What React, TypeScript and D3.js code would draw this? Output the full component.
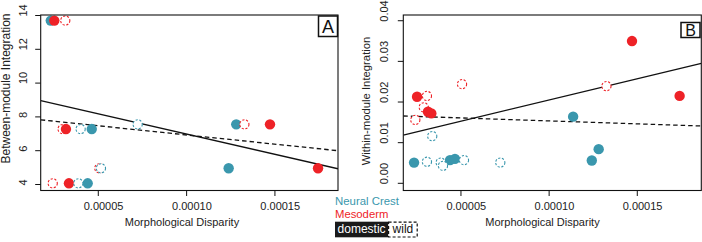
import React from "react";
import * as d3 from "d3";

// ---------- data ----------
// Panel A: between-module integration vs morphological disparity
const ncDomA: [number, number][] = [
  [0.0000231, 13.7], [0.0000463, 7.28], [0.000044, 4.07], [0.0001238, 4.96], [0.0001281, 7.56],
];
const mesDomA: [number, number][] = [
  [0.0000251, 13.7], [0.0000317, 7.28], [0.0000334, 4.07], [0.0001472, 7.56], [0.0001744, 4.96],
];
const ncWildA: [number, number][] = [
  [0.00004, 7.28], [0.0000387, 4.07], [0.0000515, 4.96], [0.0000723, 7.56],
];
const mesWildA: [number, number][] = [
  [0.0000313, 13.7], [0.0000298, 7.28], [0.0000242, 4.07], [0.0000506, 4.96], [0.0001327, 7.56],
];
// Panel B: within-module integration vs morphological disparity
const ncDomB: [number, number][] = [
  [0.0000234, 0.0051], [0.0000438, 0.0057], [0.0000466, 0.006], [0.0001136, 0.0164],
  [0.0001242, 0.0056], [0.0001281, 0.0084],
];
const mesDomB: [number, number][] = [
  [0.0000251, 0.0213], [0.0000313, 0.0176], [0.0000332, 0.0172], [0.000147, 0.035], [0.000174, 0.0215],
];
const ncWildB: [number, number][] = [
  [0.0000337, 0.0116], [0.0000307, 0.0053], [0.0000385, 0.0051], [0.0000398, 0.0043],
  [0.0000517, 0.0057], [0.0000723, 0.0051],
];
const mesWildB: [number, number][] = [
  [0.0000307, 0.0215], [0.0000289, 0.0187], [0.0000241, 0.0156], [0.0000506, 0.0244], [0.0001325, 0.0239],
];
// regression lines [intercept, slope]
const fitDomA: [number, number] = [9.377, -23945];
const fitWildA: [number, number] = [8.019, -10873];
const fitDomB: [number, number] = [0.01007, 104.4];
const fitWildB: [number, number] = [0.01681, -14.56];

const xTicks = [0.00005, 0.0001, 0.00015];
const xTickLabels = ["0.00005", "0.00010", "0.00015"];
const yTicksA = [4, 6, 8, 10, 12, 14];
const yTickLabelsA = ["4", "6", "8", "10", "12", "14"];
const yTicksB = [0, 0.01, 0.02, 0.03, 0.04];
const yTickLabelsB = ["0.00", "0.01", "0.02", "0.03", "0.04"];

const TEAL = "#3a97ad";
const RED = "#ee2227";
const FONT = "'Liberation Sans', Arial, Helvetica, sans-serif";

type PanelProps = {
  x0: number; x1: number; xDom: [number, number];
  yDom: [number, number];
  ncDom: [number, number][]; mesDom: [number, number][];
  ncWild: [number, number][]; mesWild: [number, number][];
  fitDom: [number, number]; fitWild: [number, number];
  yTicks: number[]; yTickLabels: string[];
  yLabel: string; yLabelX: number; yLabelY: number; yLabelSize: number;
  yTickTextX: number;
  xLabelX: number;
  letter: string; letterBox: [number, number, number, number]; letterSize: number;
  clipId: string;
};

const TOP = 15;
const BOTTOM = 190.5;

function Panel(p: PanelProps) {
  const x = d3.scaleLinear().domain(p.xDom).range([p.x0, p.x1]);
  const y = d3.scaleLinear().domain(p.yDom).range([BOTTOM, TOP]);
  const r = 5.2;
  const line = d3.line<[number, number]>().x((d) => x(d[0])).y((d) => y(d[1]));
  const fitPts = (f: [number, number]): [number, number][] =>
    p.xDom.map((v) => [v, f[0] + f[1] * v] as [number, number]);
  return (
    <g fontFamily={FONT}>
      <defs>
        <clipPath id={p.clipId}>
          <rect x={p.x0} y={TOP} width={p.x1 - p.x0} height={BOTTOM - TOP} />
        </clipPath>
      </defs>
      <g clipPath={`url(#${p.clipId})`}>
        <path d={line(fitPts(p.fitDom)) || ""} stroke="#111" strokeWidth={1.3} fill="none" />
        <path d={line(fitPts(p.fitWild)) || ""} stroke="#111" strokeWidth={1.3} strokeDasharray="4.5,3" fill="none" />
        {p.ncDom.map((d, i) => (
          <circle key={"nd" + i} cx={x(d[0])} cy={y(d[1])} r={r} fill={TEAL} />
        ))}
        {p.mesWild.map((d, i) => (
          <circle key={"mw" + i} cx={x(d[0])} cy={y(d[1])} r={r - 0.6} fill="#fff" stroke={RED}
            strokeWidth={1.1} strokeDasharray="2.2,1.6" />
        ))}
        {p.mesDom.map((d, i) => (
          <circle key={"md" + i} cx={x(d[0])} cy={y(d[1])} r={r} fill={RED} />
        ))}
        {p.ncWild.map((d, i) => (
          <circle key={"nw" + i} cx={x(d[0])} cy={y(d[1])} r={r - 0.6} fill="#fff" stroke={TEAL}
            strokeWidth={1.1} strokeDasharray="2.2,1.6" />
        ))}
      </g>
      <rect x={p.x0} y={TOP} width={p.x1 - p.x0} height={BOTTOM - TOP} fill="none" stroke="#111" strokeWidth={1.1} />
      {/* x axis */}
      {xTicks.map((t, i) => (
        <g key={"xt" + i}>
          <line x1={x(t)} x2={x(t)} y1={BOTTOM} y2={BOTTOM + 5.5} stroke="#111" strokeWidth={1} />
          <text x={x(t) + 5.3} y={209.5} fontSize={11} textAnchor="middle" fill="#222">{xTickLabels[i]}</text>
        </g>
      ))}
      <text x={p.xLabelX} y={225.5} fontSize={11} textAnchor="middle" fill="#222">Morphological Disparity</text>
      {/* y axis */}
      {p.yTicks.map((t, i) => (
        <g key={"yt" + i}>
          <line x1={p.x0 - 5.5} x2={p.x0} y1={y(t)} y2={y(t)} stroke="#111" strokeWidth={1} />
          <text transform={`translate(${p.yTickTextX},${y(t) + 1}) rotate(-90)`} fontSize={11}
            textAnchor="start" fill="#222">{p.yTickLabels[i]}</text>
        </g>
      ))}
      <text transform={`translate(${p.yLabelX},${p.yLabelY}) rotate(-90)`} fontSize={p.yLabelSize}
        textAnchor="middle" fill="#222">{p.yLabel}</text>
      {/* panel letter */}
      <rect x={p.letterBox[0]} y={p.letterBox[1]} width={p.letterBox[2]} height={p.letterBox[3]}
        fill="#fff" stroke="#111" strokeWidth={1.5} />
      <text x={p.letterBox[0] + p.letterBox[2] / 2} y={p.letterBox[1] + p.letterBox[3] / 2 + p.letterSize * 0.36}
        fontSize={p.letterSize} textAnchor="middle" fill="#111">{p.letter}</text>
    </g>
  );
}

export default function App() {
  return (
    <svg width={702} height={242} style={{ position: "absolute", left: 0, top: 0, background: "#fff" }}>
      <rect width={702} height={242} fill="#fff" />
      <Panel
        x0={40.7} x1={338} xDom={[0.0000174, 0.0001857]} yDom={[3.645, 14.03]}
        ncDom={ncDomA} mesDom={mesDomA} ncWild={ncWildA} mesWild={mesWildA}
        fitDom={fitDomA} fitWild={fitWildA}
        yTicks={yTicksA} yTickLabels={yTickLabelsA}
        yLabel="Between-module Integration" yLabelX={9.6} yLabelY={88.5} yLabelSize={12}
        yTickTextX={26.7} xLabelX={182}
        letter="A" letterBox={[318.5, 16, 19, 20.5]} letterSize={18} clipId="clipA"
      />
      <Panel
        x0={403.3} x1={701.3} xDom={[0.0000173, 0.0001863]} yDom={[-0.00177, 0.04141]}
        ncDom={ncDomB} mesDom={mesDomB} ncWild={ncWildB} mesWild={mesWildB}
        fitDom={fitDomB} fitWild={fitWildB}
        yTicks={yTicksB} yTickLabels={yTickLabelsB}
        yLabel="Within-module Integration" yLabelX={370.3} yLabelY={101} yLabelSize={11.3}
        yTickTextX={388.2} xLabelX={542.5}
        letter="B" letterBox={[681, 22.5, 19, 15]} letterSize={16} clipId="clipB"
      />
      {/* legend */}
      <g fontFamily={FONT}>
        <text x={335} y={205} fontSize={11.4} fill={TEAL}>Neural Crest</text>
        <text x={335} y={218.3} fontSize={11.3} fill={RED}>Mesoderm</text>
        <rect x={335} y={221.7} width={53.3} height={15.6} fill="#1a1a1a" />
        <text x={361.6} y={233.4} fontSize={12} textAnchor="middle" fill="#fff">domestic</text>
        <rect x={388.6} y={222.2} width={28.6} height={14.8} fill="#fff" stroke="#111" strokeWidth={1.2} strokeDasharray="3,2" />
        <text x={402.9} y={233.4} fontSize={12} textAnchor="middle" fill="#111">wild</text>
      </g>
    </svg>
  );
}
